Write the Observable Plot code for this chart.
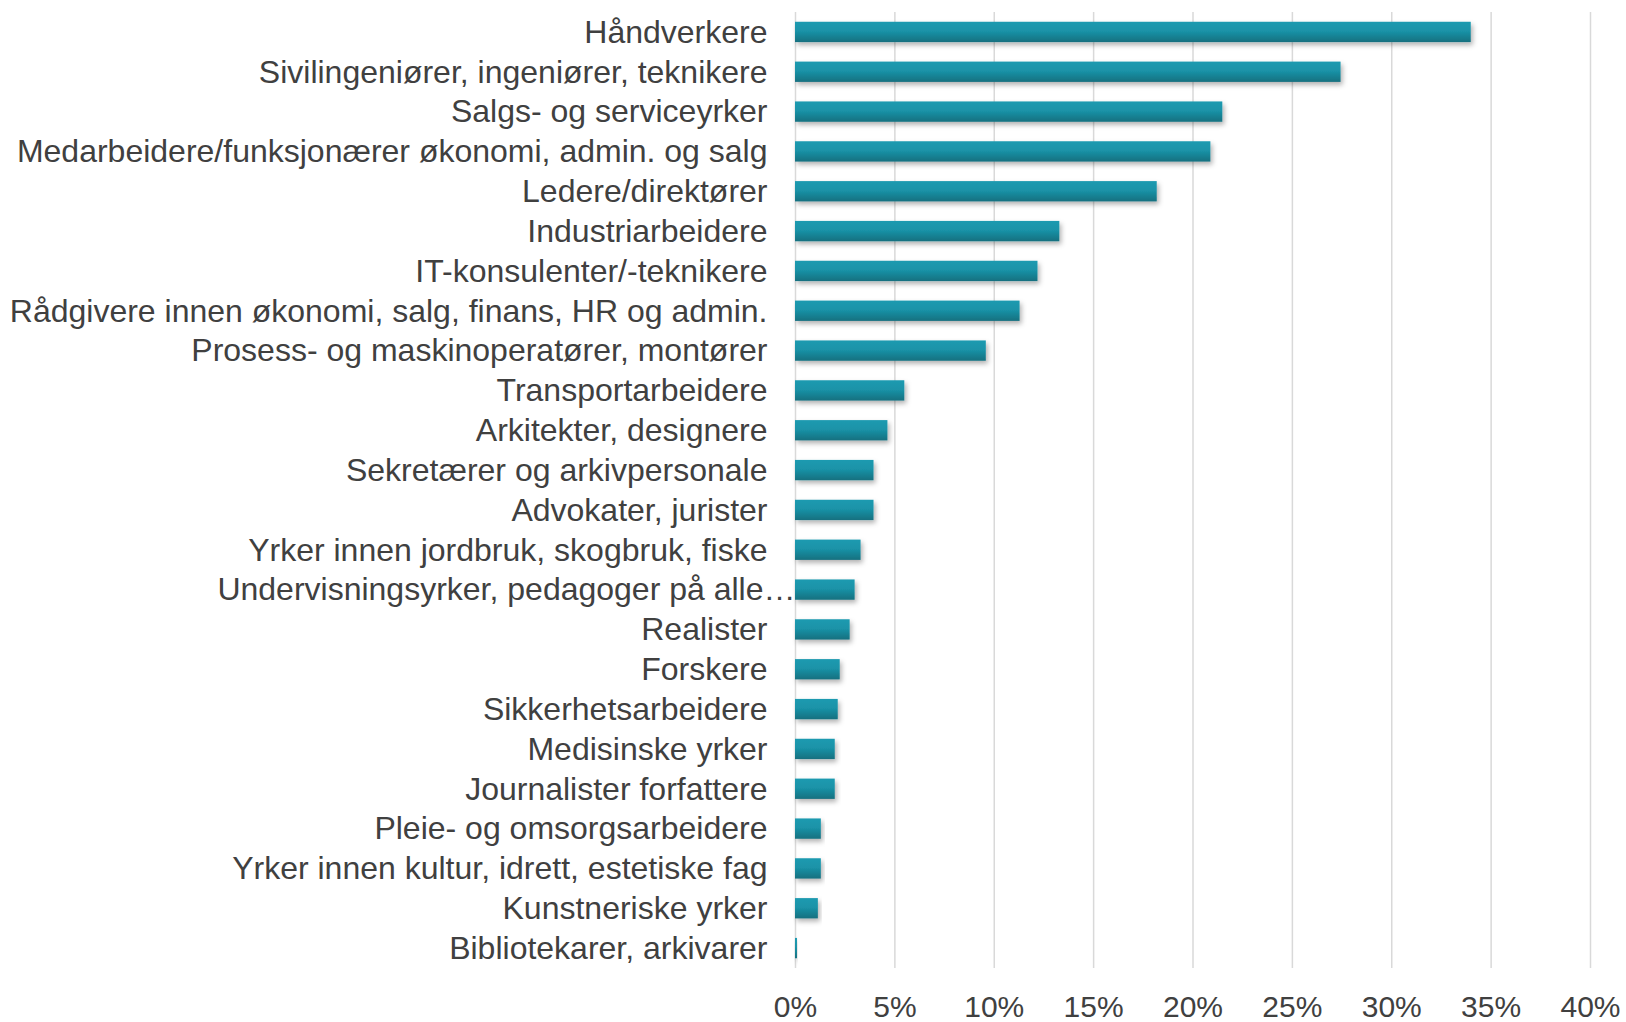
<!DOCTYPE html>
<html>
<head>
<meta charset="utf-8">
<script src="https://cdn.jsdelivr.net/npm/d3@7"></script>
<script src="https://cdn.jsdelivr.net/npm/@observablehq/plot@0.6"></script>
<style>
  html, body { margin: 0; padding: 0; background: #fff; }
  #chart { width: 1626px; height: 1022px; }
</style>
</head>
<body>
<div id="chart"></div>
<script>
const categories = [
  "Håndverkere",
  "Sivilingeniører, ingeniører, teknikere",
  "Salgs- og serviceyrker",
  "Medarbeidere/funksjonærer økonomi, admin. og salg",
  "Ledere/direktører",
  "Industriarbeidere",
  "IT-konsulenter/-teknikere",
  "Rådgivere innen økonomi, salg, finans, HR og admin.",
  "Prosess- og maskinoperatører, montører",
  "Transportarbeidere",
  "Arkitekter, designere",
  "Sekretærer og arkivpersonale",
  "Advokater, jurister",
  "Yrker innen jordbruk, skogbruk, fiske",
  "Undervisningsyrker, pedagoger på alle…",
  "Realister",
  "Forskere",
  "Sikkerhetsarbeidere",
  "Medisinske yrker",
  "Journalister forfattere",
  "Pleie- og omsorgsarbeidere",
  "Yrker innen kultur, idrett, estetiske fag",
  "Kunstneriske yrker",
  "Bibliotekarer, arkivarer"
];
const values = [34.0, 27.45, 21.5, 20.9, 18.2, 13.3, 12.2, 11.3, 9.6, 5.5, 4.65, 3.95, 3.95, 3.3, 3.0, 2.75, 2.25, 2.15, 2.0, 2.0, 1.3, 1.3, 1.15, 0.1];
const xTicks = [0, 5, 10, 15, 20, 25, 30, 35, 40];

const data = categories.map((c, i) => ({category: c, value: values[i]}));

const plot = Plot.plot({
  width: 1626,
  height: 1022,
  marginLeft: 795,
  marginRight: 36,
  marginTop: 12,
  marginBottom: 54,
  style: {fontFamily: "'Liberation Sans', Arial, sans-serif", background: "#fff"},
  x: {domain: [0, 40], ticks: xTicks, tickFormat: d => d + "%"},
  y: {domain: categories, paddingInner: 0.49, paddingOuter: 0.245, round: false, label: null},
  marks: [
    Plot.gridX(xTicks, {stroke: "#d9d9d9", strokeOpacity: 1, strokeWidth: 1.5}),
    Plot.barX(data, {x: "value", y: "category", fill: "url(#barGrad)"}),
    Plot.axisX({ticks: xTicks, tickSize: 0, tickPadding: 27, label: null, fontSize: 30, fill: "#404040", tickFormat: d => d + "%"}),
    Plot.axisY({tickSize: 0, tickPadding: 28, label: null, fontSize: 32, fill: "#404040"})
  ]
});

const svg = d3.select(plot);
const defs = svg.insert("defs", ":first-child");
const g = defs.append("linearGradient").attr("id", "barGrad").attr("x1", 0).attr("y1", 0).attr("x2", 0).attr("y2", 1);
g.append("stop").attr("offset", "0%").attr("stop-color", "#1c9ab0");
g.append("stop").attr("offset", "45%").attr("stop-color", "#1a93a8");
g.append("stop").attr("offset", "100%").attr("stop-color", "#14707f");
const f = defs.append("filter").attr("id", "barShadow").attr("x", "-5%").attr("y", "-30%").attr("width", "120%").attr("height", "180%");
f.append("feDropShadow").attr("dx", 2).attr("dy", 3).attr("stdDeviation", 2.5).attr("flood-color", "#000").attr("flood-opacity", 0.3);
svg.selectAll("g[aria-label='bar'] rect").attr("filter", "url(#barShadow)");

// the truncated label overflows into the plot area in the original
svg.selectAll("g[aria-label='y-axis tick label'] text")
  .filter(function () { return this.textContent.endsWith("…"); })
  .attr("dx", 28);

document.getElementById("chart").appendChild(plot);
</script>
</body>
</html>
